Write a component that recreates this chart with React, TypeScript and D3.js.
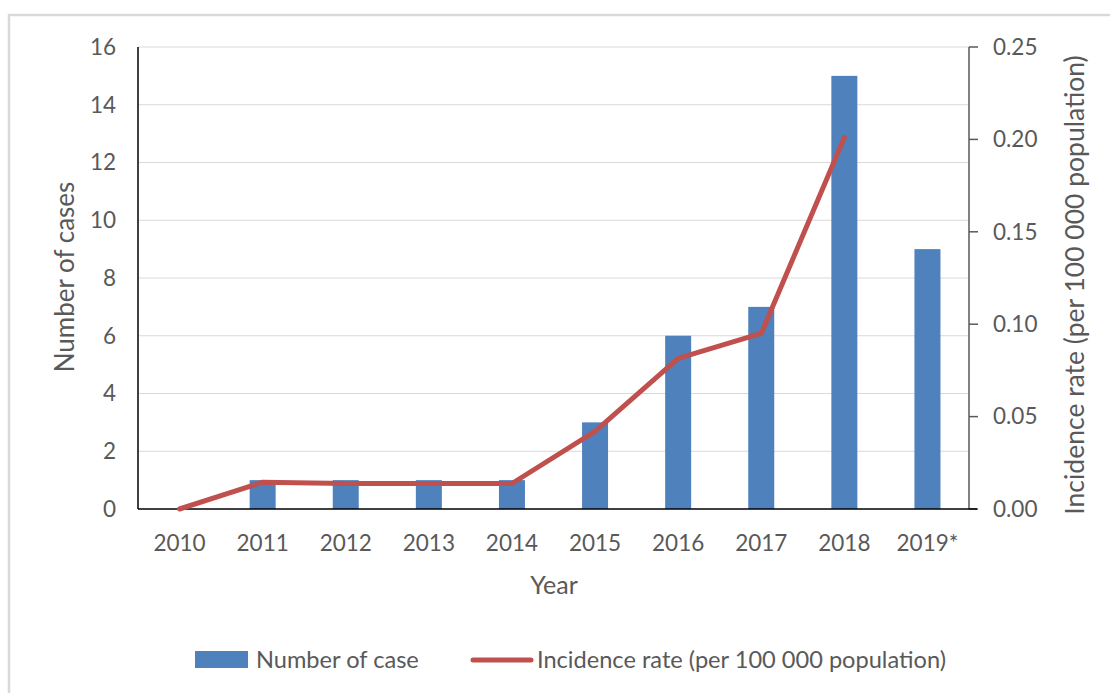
import React from "react";
import * as d3 from "d3";

const years = ["2010", "2011", "2012", "2013", "2014", "2015", "2016", "2017", "2018", "2019*"];
const cases = [0, 1, 1, 1, 1, 3, 6, 7, 15, 9];
const incidence: (number | null)[] = [0, 0.0145, 0.0138, 0.0138, 0.0138, 0.042, 0.0815, 0.095, 0.201, null];
const caseTicks = [0, 2, 4, 6, 8, 10, 12, 14, 16];
const rateTicks = [0, 0.05, 0.1, 0.15, 0.2, 0.25];

const W = 1110;
const H = 693;
const M = { left: 138, right: 969, top: 47, bottom: 509 };
const FONT = "Lato, 'Open Sans', sans-serif";
const TEXT = "#595959";
const BAR = "#4F81BD";
const LINE = "#C0504D";

export default function App() {
  const x = d3.scaleBand<string>().domain(years).range([M.left, M.right]).paddingInner(0).paddingOuter(0);
  const yL = d3.scaleLinear().domain([0, 16]).range([M.bottom, M.top]);
  const yR = d3.scaleLinear().domain([0, 0.25]).range([M.bottom, M.top]);
  const barW = 26;

  const linePts = years
    .map((yr, i) => ({ yr, v: incidence[i] }))
    .filter((d) => d.v !== null) as { yr: string; v: number }[];
  const lineGen = d3
    .line<{ yr: string; v: number }>()
    .x((d) => (x(d.yr) as number) + x.bandwidth() / 2)
    .y((d) => yR(d.v));

  return (
    <svg
      width={W}
      height={H}
      style={{ position: "absolute", left: 0, top: 0, background: "#fff" }}
      fontFamily={FONT}
    >
      <rect x={9} y={15} width={W + 20} height={H + 20} fill="#fff" stroke="#d9d9d9" strokeWidth={2.5} />

      {/* gridlines */}
      {caseTicks.slice(1).map((t) => (
        <line key={t} x1={M.left} x2={M.right} y1={yL(t)} y2={yL(t)} stroke="#d9d9d9" strokeWidth={1.2} />
      ))}

      {/* bars */}
      {years.map((yr, i) => (
        <rect
          key={yr}
          x={(x(yr) as number) + x.bandwidth() / 2 - barW / 2}
          y={yL(cases[i])}
          width={barW}
          height={yL(0) - yL(cases[i])}
          fill={BAR}
        />
      ))}

      {/* right axis */}
      <line x1={M.right} x2={M.right} y1={M.top} y2={M.bottom} stroke="#595959" strokeWidth={1.5} />
      {rateTicks.map((t) => (
        <g key={t}>
          <line x1={M.right} x2={M.right + 9} y1={yR(t)} y2={yR(t)} stroke="#595959" strokeWidth={1.5} />
          <text x={993} y={yR(t)} dy="0.35em" fontSize={22.5} fill={TEXT}>
            {t.toFixed(2)}
          </text>
        </g>
      ))}

      {/* left & bottom axes */}
      <line x1={M.left} x2={M.left} y1={M.top} y2={M.bottom} stroke="#000" strokeWidth={1.5} />
      <line x1={M.left} x2={M.right + 8} y1={M.bottom} y2={M.bottom} stroke="#000" strokeWidth={1.5} />

      {caseTicks.map((t) => (
        <text key={t} x={116} y={yL(t)} dy="0.35em" textAnchor="end" fontSize={22.5} fill={TEXT}>
          {t}
        </text>
      ))}

      {years.map((yr) => (
        <text
          key={yr}
          x={(x(yr) as number) + x.bandwidth() / 2}
          y={543}
          dy="0.35em"
          textAnchor="middle"
          fontSize={22.5}
          fill={TEXT}
        >
          {yr}
        </text>
      ))}

      {/* line */}
      <path d={lineGen(linePts) || ""} fill="none" stroke={LINE} strokeWidth={5} strokeLinejoin="round" strokeLinecap="round" />

      {/* axis titles */}
      <text x={554} y={585} dy="0.35em" textAnchor="middle" fontSize={25} fill={TEXT}>
        Year
      </text>
      <text transform={`translate(65,277) rotate(-90)`} dy="0.35em" textAnchor="middle" fontSize={26} fill={TEXT}>
        Number of cases
      </text>
      <text transform={`translate(1075,285) rotate(-90)`} dy="0.35em" textAnchor="middle" fontSize={26.5} fill={TEXT}>
        Incidence rate (per 100 000 population)
      </text>

      {/* legend */}
      <rect x={195} y={651} width={53} height={17} fill={BAR} />
      <text x={256} y={660} dy="0.35em" fontSize={23.6} fill={TEXT}>
        Number of case
      </text>
      <line x1={473} x2={531} y1={660} y2={660} stroke={LINE} strokeWidth={5} strokeLinecap="round" />
      <text x={537} y={660} dy="0.35em" fontSize={23.6} fill={TEXT}>
        Incidence rate (per 100 000 population)
      </text>
    </svg>
  );
}
